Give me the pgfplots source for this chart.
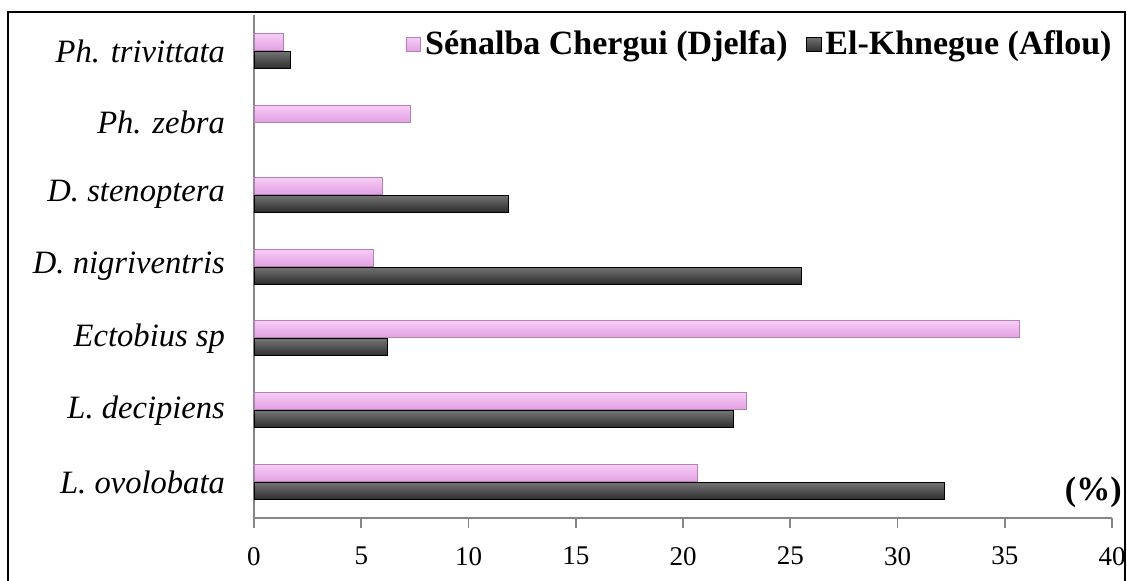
\documentclass[border=0pt]{standalone}
\usepackage{pgfplots}
\pgfplotsset{compat=1.18}
\usepackage{fontspec}
\setmainfont{Liberation Serif}
\definecolor{axgray}{RGB}{134,134,134}
\definecolor{pinkA}{RGB}{246,205,246}
\definecolor{pinkB}{RGB}{226,160,226}
\definecolor{darkA}{RGB}{60,60,60}
\definecolor{darkM}{RGB}{115,115,115}
\definecolor{darkB}{RGB}{45,45,45}
\pgfplotsset{
  pinkbar/.style={xbar, bar shift=4.5pt, draw=pinkB!80!black, top color=pinkA, middle color=white, bottom color=pinkB, line width=0.4pt, forget plot},
  darkbar/.style={xbar, bar shift=-4.5pt, draw=black, top color=darkM, middle color=darkA, bottom color=darkB, line width=0.4pt, forget plot},
}
\begin{document}
\begin{tikzpicture}
\begin{axis}[
  scale only axis,
  width=429pt, height=251.5pt,
  bar width=8.5pt,
  xmin=0, xmax=40, ymin=-0.5, ymax=6.5,
  xtick={0,5,...,40},
  ytick={0,...,6},
  yticklabels={L. ovolobata, L. decipiens, Ectobius sp, D. nigriventris, D. stenoptera, Ph. zebra, Ph. trivittata},
  minor ytick={-0.5,0.5,...,6.5},
  major tick length=5pt,
  ytick style={draw=none},
  minor tick style={draw=axgray, line width=0.8pt},
  minor tick length=5pt,
  xtick style={draw=axgray, line width=0.8pt},
  tick align=outside,
  tick pos=left,
  axis x line*=bottom, axis y line*=left,
  axis line style={draw=axgray, line width=0.8pt, -},
  yticklabel style={font=\fontsize{16.3}{19}\selectfont\itshape, xshift=-6pt},
  xticklabel style={font=\fontsize{13.5}{16}\selectfont, yshift=-6pt},
  /pgf/number format/assume math mode=true,
  legend style={at={(rel axis cs:1,0.985)}, anchor=north east, xshift=5pt, draw=none, fill=none,
    legend columns=-1, font=\fontsize{17}{20}\selectfont\bfseries,
    /tikz/every even column/.append style={column sep=7pt}},
  legend image code/.code={\draw[#1] (0cm,-0.13cm) rectangle (0.26cm,0.13cm);},
  clip=false,
]
\addlegendimage{draw=pinkB!80!black, top color=pinkA, middle color=white, bottom color=pinkB}
\addlegendimage{draw=black, top color=darkM, middle color=darkA, bottom color=darkB}
% Sénalba Chergui (Djelfa)
\addplot[pinkbar] coordinates {(20.65,0)};
\addplot[pinkbar] coordinates {(22.94,1)};
\addplot[pinkbar] coordinates {(35.66,2)};
\addplot[pinkbar] coordinates {(5.55,3)};
\addplot[pinkbar] coordinates {(6.0,4)};
\addplot[pinkbar] coordinates {(7.27,5)};
\addplot[pinkbar] coordinates {(1.35,6)};
% El-Khnegue (Aflou)
\addplot[darkbar] coordinates {(32.2,0)};
\addplot[darkbar] coordinates {(22.33,1)};
\addplot[darkbar] coordinates {(6.2,2)};
\addplot[darkbar] coordinates {(25.5,3)};
\addplot[darkbar] coordinates {(11.84,4)};
\addplot[darkbar] coordinates {(1.68,6)};
\legend{Sénalba Chergui (Djelfa), El-Khnegue (Aflou)}
\node[anchor=south east, font=\fontsize{17}{20}\selectfont\bfseries, inner sep=0pt] at ([xshift=5pt, yshift=5pt]rel axis cs:1,0) {(\%)};
\end{axis}
\draw[line width=1pt] (-123pt,-40pt) rectangle (435.5pt,253pt);
\pgfresetboundingbox
\path (-127pt,-31pt) rectangle (436.5pt,259pt);
\end{tikzpicture}
\end{document}
